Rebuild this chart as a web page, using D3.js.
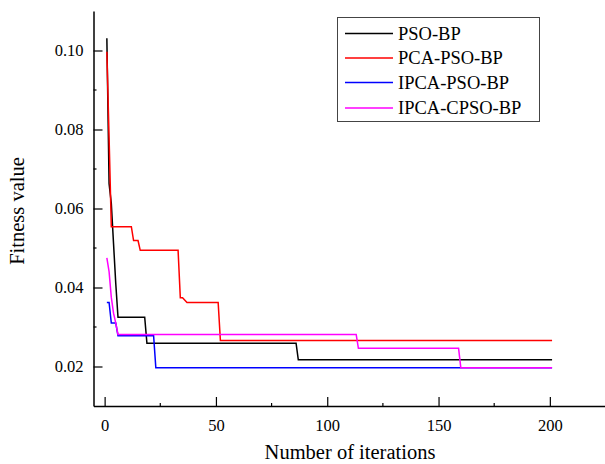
<!DOCTYPE html>
<html>
<head>
<meta charset="utf-8">
<script src="https://cdn.jsdelivr.net/npm/d3@7"></script>
<style>
  body { margin: 0; background: #fff; }
  svg text { font-family: "Liberation Serif", "Times New Roman", serif; fill: #000; }
</style>
</head>
<body>
<div id="chart"></div>
<script>
// series keypoints: [iteration, fitness]
const psoBP = [[1,0.1031],[2,0.0663],[3,0.0613],[4,0.0511],[5,0.041],[6,0.0325],[18,0.0325],[19,0.0259],[86,0.0259],[87,0.0217],[201,0.0217]]
const pcaPsoBP = [[1,0.0997],[2,0.078],[3,0.0554],[12,0.0554],[13,0.0519],[15,0.0519],[16,0.0494],[33,0.0494],[34,0.0374],[35,0.0374],[37,0.0362],[51,0.0362],[52,0.0266],[201,0.0266]]
const ipcaPsoBP = [[1,0.0362],[2,0.0362],[3,0.031],[5,0.031],[6,0.0278],[22,0.0278],[23,0.0197],[201,0.0197]]
const ipcaCpsoBP = [[1,0.0475],[2,0.044],[3,0.0375],[4,0.0335],[5,0.031],[6,0.0281],[113,0.0281],[114,0.0246],[159,0.0246],[160,0.0197],[201,0.0197]]

const seriesNames = ['PSO-BP', 'PCA-PSO-BP', 'IPCA-PSO-BP', 'IPCA-CPSO-BP']
const seriesData = [psoBP, pcaPsoBP, ipcaPsoBP, ipcaCpsoBP]
const colors = ['#000000', '#ff0000', '#0000ff', '#ff00ff']

const xTicks = [0, 50, 100, 150, 200]
const yTicks = [0.02, 0.04, 0.06, 0.08, 0.10]

const width = 605, height = 464
const serif = '"Liberation Serif", "Times New Roman", serif'

const svg = d3.select('#chart').append('svg')
    .attr('width', width)
    .attr('height', height)

const x = d3.scaleLinear().domain([-5, 225]).range([93.5, 605.5])
const y = d3.scaleLinear().domain([0.01, 0.11]).range([406, 11])

// lines
const line = d3.line()
    .x(d => x(d[0]))
    .y(d => y(d[1]))

svg.append('g')
    .selectAll('path')
    .data(seriesData)
    .enter()
    .append('path')
    .attr('d', line)
    .attr('fill', 'none')
    .attr('stroke', (d, i) => colors[i])
    .attr('stroke-width', 1.5)

// x axis (ticks point inward)
const xAxis = svg.append('g')
    .attr('transform', `translate(0,${y.range()[0]})`)
    .call(d3.axisBottom(x).tickValues(xTicks).tickSizeInner(-9).tickSizeOuter(0).tickPadding(13).tickFormat(d3.format('d')))
// minor ticks
xAxis.selectAll('.minor')
    .data([25, 75, 125, 175])
    .enter()
    .append('line')
    .attr('class', 'minor')
    .attr('x1', d => x(d)).attr('x2', d => x(d))
    .attr('y1', 0).attr('y2', -3)
    .attr('stroke', '#000').attr('stroke-width', 1.2)

// y axis
const yAxis = svg.append('g')
    .attr('transform', `translate(${x.range()[0]},0)`)
    .call(d3.axisLeft(y).tickValues(yTicks).tickSizeInner(-9).tickSizeOuter(0).tickPadding(10).tickFormat(d3.format('.2f')))
yAxis.selectAll('.minor')
    .data([0.03, 0.05, 0.07, 0.09])
    .enter()
    .append('line')
    .attr('class', 'minor')
    .attr('y1', d => y(d)).attr('y2', d => y(d))
    .attr('x1', 0).attr('x2', 3)
    .attr('stroke', '#000').attr('stroke-width', 1.2)

svg.selectAll('g').attr('font-family', serif)
svg.selectAll('.domain').attr('stroke', '#000').attr('stroke-width', 1.5)
svg.selectAll('.tick line').attr('stroke', '#000').attr('stroke-width', 1.2)
svg.selectAll('.tick text')
    .style('font-size', '16.5px')
    .style('font-family', serif)

// axis titles
svg.append('text')
    .attr('x', 350)
    .attr('y', 459)
    .attr('text-anchor', 'middle')
    .style('font-size', '20.5px')
    .text('Number of iterations')

svg.append('text')
    .attr('transform', 'translate(24,211) rotate(-90)')
    .attr('text-anchor', 'middle')
    .style('font-size', '20.5px')
    .text('Fitness value')

// legend
const legend = svg.append('g')
svg.append('rect')
    .attr('x', 337.5).attr('y', 17.5)
    .attr('width', 202).attr('height', 104)
    .attr('fill', 'none')
    .attr('stroke', '#444')
    .attr('stroke-width', 1)

const rowY = [33.5, 58, 82.5, 108]
seriesNames.forEach((name, i) => {
    legend.append('line')
        .attr('x1', 345).attr('x2', 393)
        .attr('y1', rowY[i]).attr('y2', rowY[i])
        .attr('stroke', colors[i])
        .attr('stroke-width', 1.5)
    legend.append('text')
        .attr('x', 398)
        .attr('y', rowY[i])
        .attr('dy', '0.35em')
        .style('font-size', '18.5px')
        .style('font-family', serif)
        .text(name)
})
</script>
</body>
</html>
